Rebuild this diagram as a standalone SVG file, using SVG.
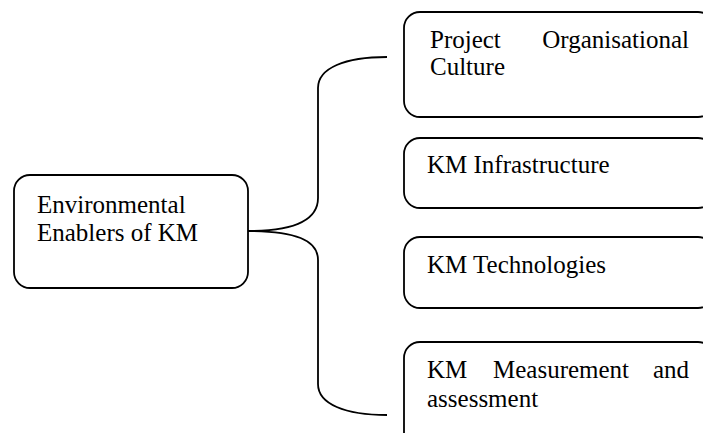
<svg xmlns="http://www.w3.org/2000/svg" width="703" height="433" viewBox="0 0 703 433">
<style>
.box{fill:#fff;stroke:#000;stroke-width:1.8}
.t{font-family:"Liberation Serif","Times New Roman",serif;font-size:25px;fill:#000}
.c{fill:none;stroke:#000;stroke-width:1.8}
</style>
<rect width="703" height="433" fill="#fff"/>
<g id="connectors">
<path class="c" d="M248,231 C295,231 318,220 318,198 L318,88 C318,68 345,57 387,57"/>
<path class="c" d="M248,231 C295,231 318,240 318,260 L318,384 C318,404 345,415 387,415"/>
</g>
<g id="n0">
<rect class="box" x="14" y="175" width="234" height="113" rx="16"/>
<text class="t" x="37" y="213">Environmental</text>
<text class="t" x="37" y="241">Enablers of KM</text>
</g>
<g id="n1">
<rect class="box" x="404" y="12" width="310" height="105" rx="16"/>
<text class="t" x="430" y="48">Project</text>
<text class="t" x="689" y="48" text-anchor="end">Organisational</text>
<text class="t" x="430" y="75">Culture</text>
</g>
<g id="n2">
<rect class="box" x="404" y="138" width="310" height="70" rx="16"/>
<text class="t" x="427" y="173">KM Infrastructure</text>
</g>
<g id="n3">
<rect class="box" x="404" y="237" width="310" height="71" rx="16"/>
<text class="t" x="427" y="273">KM Technologies</text>
</g>
<g id="n4">
<rect class="box" x="404" y="342" width="310" height="110" rx="16"/>
<text class="t" x="427" y="378">KM</text>
<text class="t" x="493" y="378">Measurement</text>
<text class="t" x="689" y="378" text-anchor="end">and</text>
<text class="t" x="427" y="407">assessment</text>
</g>
</svg>
